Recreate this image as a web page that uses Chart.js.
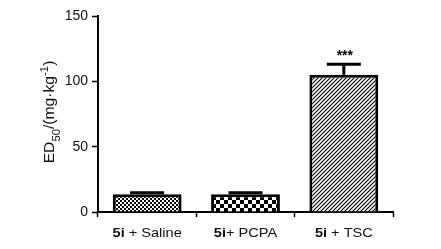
<!DOCTYPE html>
<html><head><meta charset="utf-8">
<script src="https://cdn.jsdelivr.net/npm/chart.js@4/dist/chart.umd.min.js"></script>
<style>html,body{margin:0;padding:0;background:#fff;}#wrap{width:441px;height:249px;}</style>
</head><body><div id="wrap"><canvas id="c" width="441" height="249"></canvas></div>
<script>
const categories = ["Saline", "PCPA", "TSC"];
const labelPrefix = ["5i", "5i", "5i"];
const labelSuffix = [" + Saline", "+ PCPA", " + TSC"];
const means = [13.5, 13.5, 105];
const errors = [1.2, 1.2, 8];
const significance = ["", "", "***"];
const yTicks = [0, 50, 100, 150];

function makePattern(kind){
  const c = document.createElement('canvas');
  const ctx = c.getContext('2d');
  if(kind==='fine'){
    c.width=4;c.height=4;
    ctx.fillStyle='#fff';ctx.fillRect(0,0,4,4);
    ctx.fillStyle='#000';ctx.fillRect(0,0,2,2);ctx.fillRect(2,2,2,2);
  } else if(kind==='coarse'){
    c.width=8;c.height=8;
    ctx.fillStyle='#fff';ctx.fillRect(0,0,8,8);
    ctx.fillStyle='#000';ctx.fillRect(0,0,4,4);ctx.fillRect(4,4,4,4);
  } else {
    c.width=4;c.height=4;
    ctx.fillStyle='#fff';ctx.fillRect(0,0,4,4);
    ctx.strokeStyle='#000';ctx.lineWidth=1.1;
    ctx.beginPath();
    ctx.moveTo(-1,5);ctx.lineTo(5,-1);
    ctx.moveTo(-1,1);ctx.lineTo(1,-1);
    ctx.moveTo(3,5);ctx.lineTo(5,3);
    ctx.stroke();
  }
  return document.getElementById('c').getContext('2d').createPattern(c,'repeat');
}
const fills = [makePattern('fine'), makePattern('coarse'), makePattern('hatch')];

const overlay = {
  id:'overlay',
  afterDatasetsDraw(chart){
    const ctx = chart.ctx;
    const x = chart.scales.x, y = chart.scales.y;
    ctx.save();
    // error bars
    ctx.strokeStyle='#000';ctx.lineWidth=3;ctx.lineCap='butt';
    means.forEach((m,i)=>{
      const cx = x.getPixelForValue(i);
      const yt = y.getPixelForValue(m);
      const ye = y.getPixelForValue(m+errors[i]);
      ctx.beginPath();
      ctx.moveTo(cx,yt);ctx.lineTo(cx,ye);
      ctx.moveTo(cx-17,ye);ctx.lineTo(cx+17,ye);
      ctx.stroke();
      if(significance[i]){
        ctx.fillStyle='#000';
        ctx.font='bold 14px "Liberation Sans", Arial, sans-serif';
        ctx.textAlign='center';ctx.textBaseline='alphabetic';
        ctx.fillText(significance[i], cx+1, ye-4);
      }
    });
    // x labels
    ctx.fillStyle='#111';
    ctx.textBaseline='middle';
    categories.forEach((c,i)=>{
      const cx = x.getPixelForValue(i);
      ctx.font='bold 13px "Liberation Sans", Arial, sans-serif';
      const w1 = ctx.measureText(labelPrefix[i]).width;
      ctx.font='13px "Liberation Sans", Arial, sans-serif';
      const w2 = ctx.measureText(labelSuffix[i]).width;
      const sx = 1.12;
      ctx.save();
      ctx.translate(cx - (w1+w2)*sx/2, 233);
      ctx.scale(sx,1);
      ctx.textAlign='left';
      ctx.font='bold 13px "Liberation Sans", Arial, sans-serif';
      ctx.fillText(labelPrefix[i],0,0);
      ctx.font='13px "Liberation Sans", Arial, sans-serif';
      ctx.fillText(labelSuffix[i],w1,0);
      ctx.restore();
    });
    // y title
    ctx.save();
    ctx.translate(54, 112);
    ctx.rotate(-Math.PI/2);
    ctx.fillStyle='#111';
    const parts = [
      {t:'ED', f:'14.5px', dy:0},
      {t:'50', f:'10.5px', dy:6},
      {t:'/(mg\u00b7kg', f:'14.5px', dy:0},
      {t:'-1', f:'10.5px', dy:-6},
      {t:')', f:'14.5px', dy:0}
    ];
    let total=0;
    parts.forEach(p=>{ctx.font=p.f+' "Liberation Sans", Arial, sans-serif';p.w=ctx.measureText(p.t).width;total+=p.w;});
    const sx = 1.08;
    ctx.scale(sx,1);
    let px=-total/2;
    ctx.textAlign='left';ctx.textBaseline='alphabetic';
    parts.forEach(p=>{ctx.font=p.f+' "Liberation Sans", Arial, sans-serif';ctx.fillText(p.t,px,p.dy);px+=p.w;});
    ctx.restore();
    ctx.restore();
  }
};

new Chart(document.getElementById('c'), {
  type:'bar',
  data:{
    labels: categories,
    datasets:[{
      data: means,
      backgroundColor: fills,
      borderColor:'#000',
      borderWidth:3,
      borderSkipped:'bottom',
      categoryPercentage:1,
      barPercentage:0.7
    }]
  },
  options:{
    responsive:false,
    animation:false,
    devicePixelRatio:1,
    layout:{padding:{top:16,right:48,left:0,bottom:0}},
    plugins:{legend:{display:false},tooltip:{enabled:false}},
    scales:{
      x:{
        grid:{display:true,drawOnChartArea:false,drawTicks:true,tickLength:5,tickColor:'#000',tickWidth:1.5},
        border:{color:'#000',width:2},
        ticks:{callback:()=>'' ,padding:0},
        afterFit(s){s.height=37;}
      },
      y:{
        min:0,max:150,
        afterBuildTicks(s){s.ticks = yTicks.map(v=>({value:v}));},
        grid:{display:true,drawOnChartArea:false,drawTicks:true,tickLength:6,tickColor:'#000',tickWidth:1.5},
        border:{color:'#000',width:2},
        ticks:{color:'#111',font:{family:'"Liberation Sans", Arial, sans-serif',size:14},padding:4},
        afterFit(s){s.width=98;}
      }
    }
  },
  plugins:[overlay]
});
</script>
</body></html>
